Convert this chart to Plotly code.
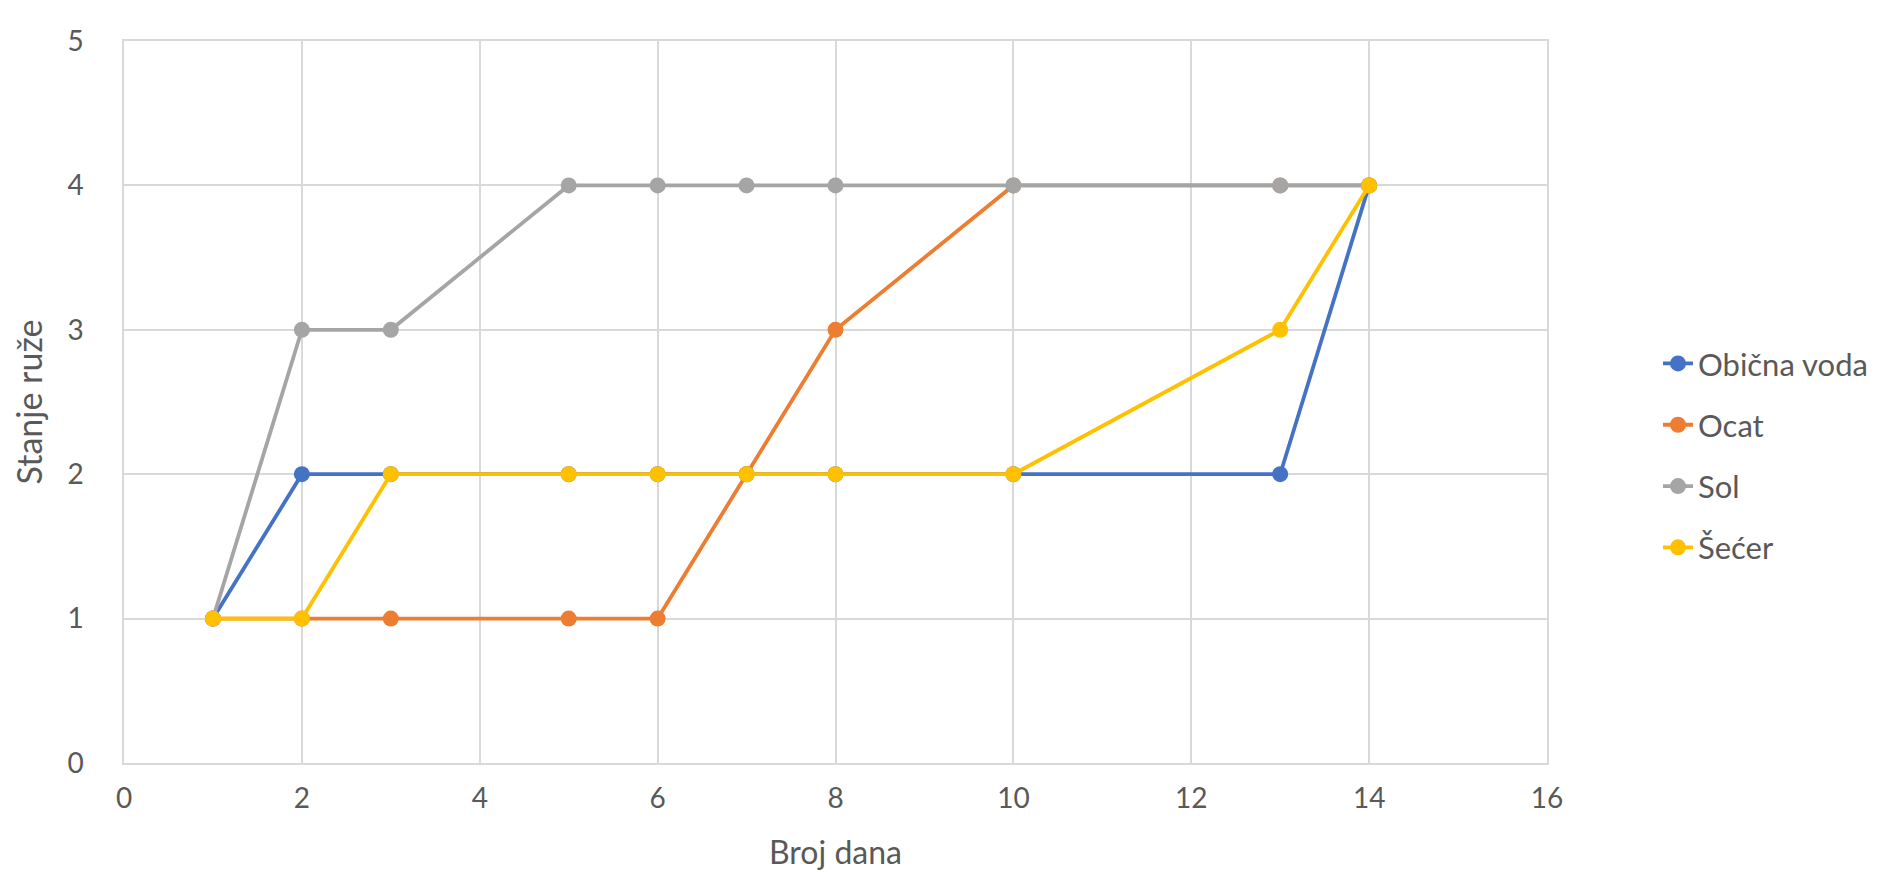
import plotly.graph_objects as go

days = [1, 2, 3, 5, 6, 7, 8, 10, 13, 14]
obicna_voda = [1, 2, 2, 2, 2, 2, 2, 2, 2, 4]
ocat = [1, 1, 1, 1, 1, 2, 3, 4, 4, 4]
sol = [1, 3, 3, 4, 4, 4, 4, 4, 4, 4]
secer = [1, 1, 2, 2, 2, 2, 2, 2, 3, 4]

series_names = ["Obična voda", "Ocat", "Sol", "Šećer"]
series_values = [obicna_voda, ocat, sol, secer]
colors = ["#4472C4", "#ED7D31", "#A5A5A5", "#FFC000"]

FONT = "Lato"
TXT = "#595959"
GRID = "#D9D9D9"

fig = go.Figure()
for i, (name, vals, col) in enumerate(zip(series_names, series_values, colors)):
    fig.add_trace(go.Scatter(
        x=days, y=vals, name=name, mode="lines+markers",
        line=dict(color=col, width=3.8),
        marker=dict(color=col, size=16),
        legendgroup=f"g{i}",
    ))

fig.update_layout(
    width=1878, height=872,
    margin=dict(l=116, r=339, t=33, b=117),
    paper_bgcolor="white", plot_bgcolor="white",
    font=dict(family=FONT, color=TXT, size=27),
    legend=dict(x=1.078, y=0.4255, xanchor="left", yanchor="middle",
                font=dict(size=31, color=TXT), tracegroupgap=18,
                bgcolor="rgba(0,0,0,0)"),
    showlegend=True,
)
fig.update_xaxes(
    range=[0, 16], dtick=2, tick0=0, showgrid=True, gridcolor=GRID, gridwidth=1.5,
    zeroline=False, showline=True, linecolor=GRID, linewidth=1.5, mirror=True,
    ticks="", ticklabelstandoff=10,
    tickfont=dict(size=28, color=TXT, family=FONT),
    title=dict(text="Broj dana", font=dict(size=32, color=TXT, family=FONT), standoff=28),
)
fig.update_yaxes(
    range=[0, 5], dtick=1, tick0=0, showgrid=True, gridcolor=GRID, gridwidth=1.5,
    zeroline=False, showline=True, linecolor=GRID, linewidth=1.5, mirror=True,
    ticks="", ticklabelstandoff=33,
    tickfont=dict(size=28, color=TXT, family=FONT),
    title=dict(text="Stanje ruže", font=dict(size=34, color=TXT, family=FONT), standoff=16),
)

fig.write_html("out.html")
